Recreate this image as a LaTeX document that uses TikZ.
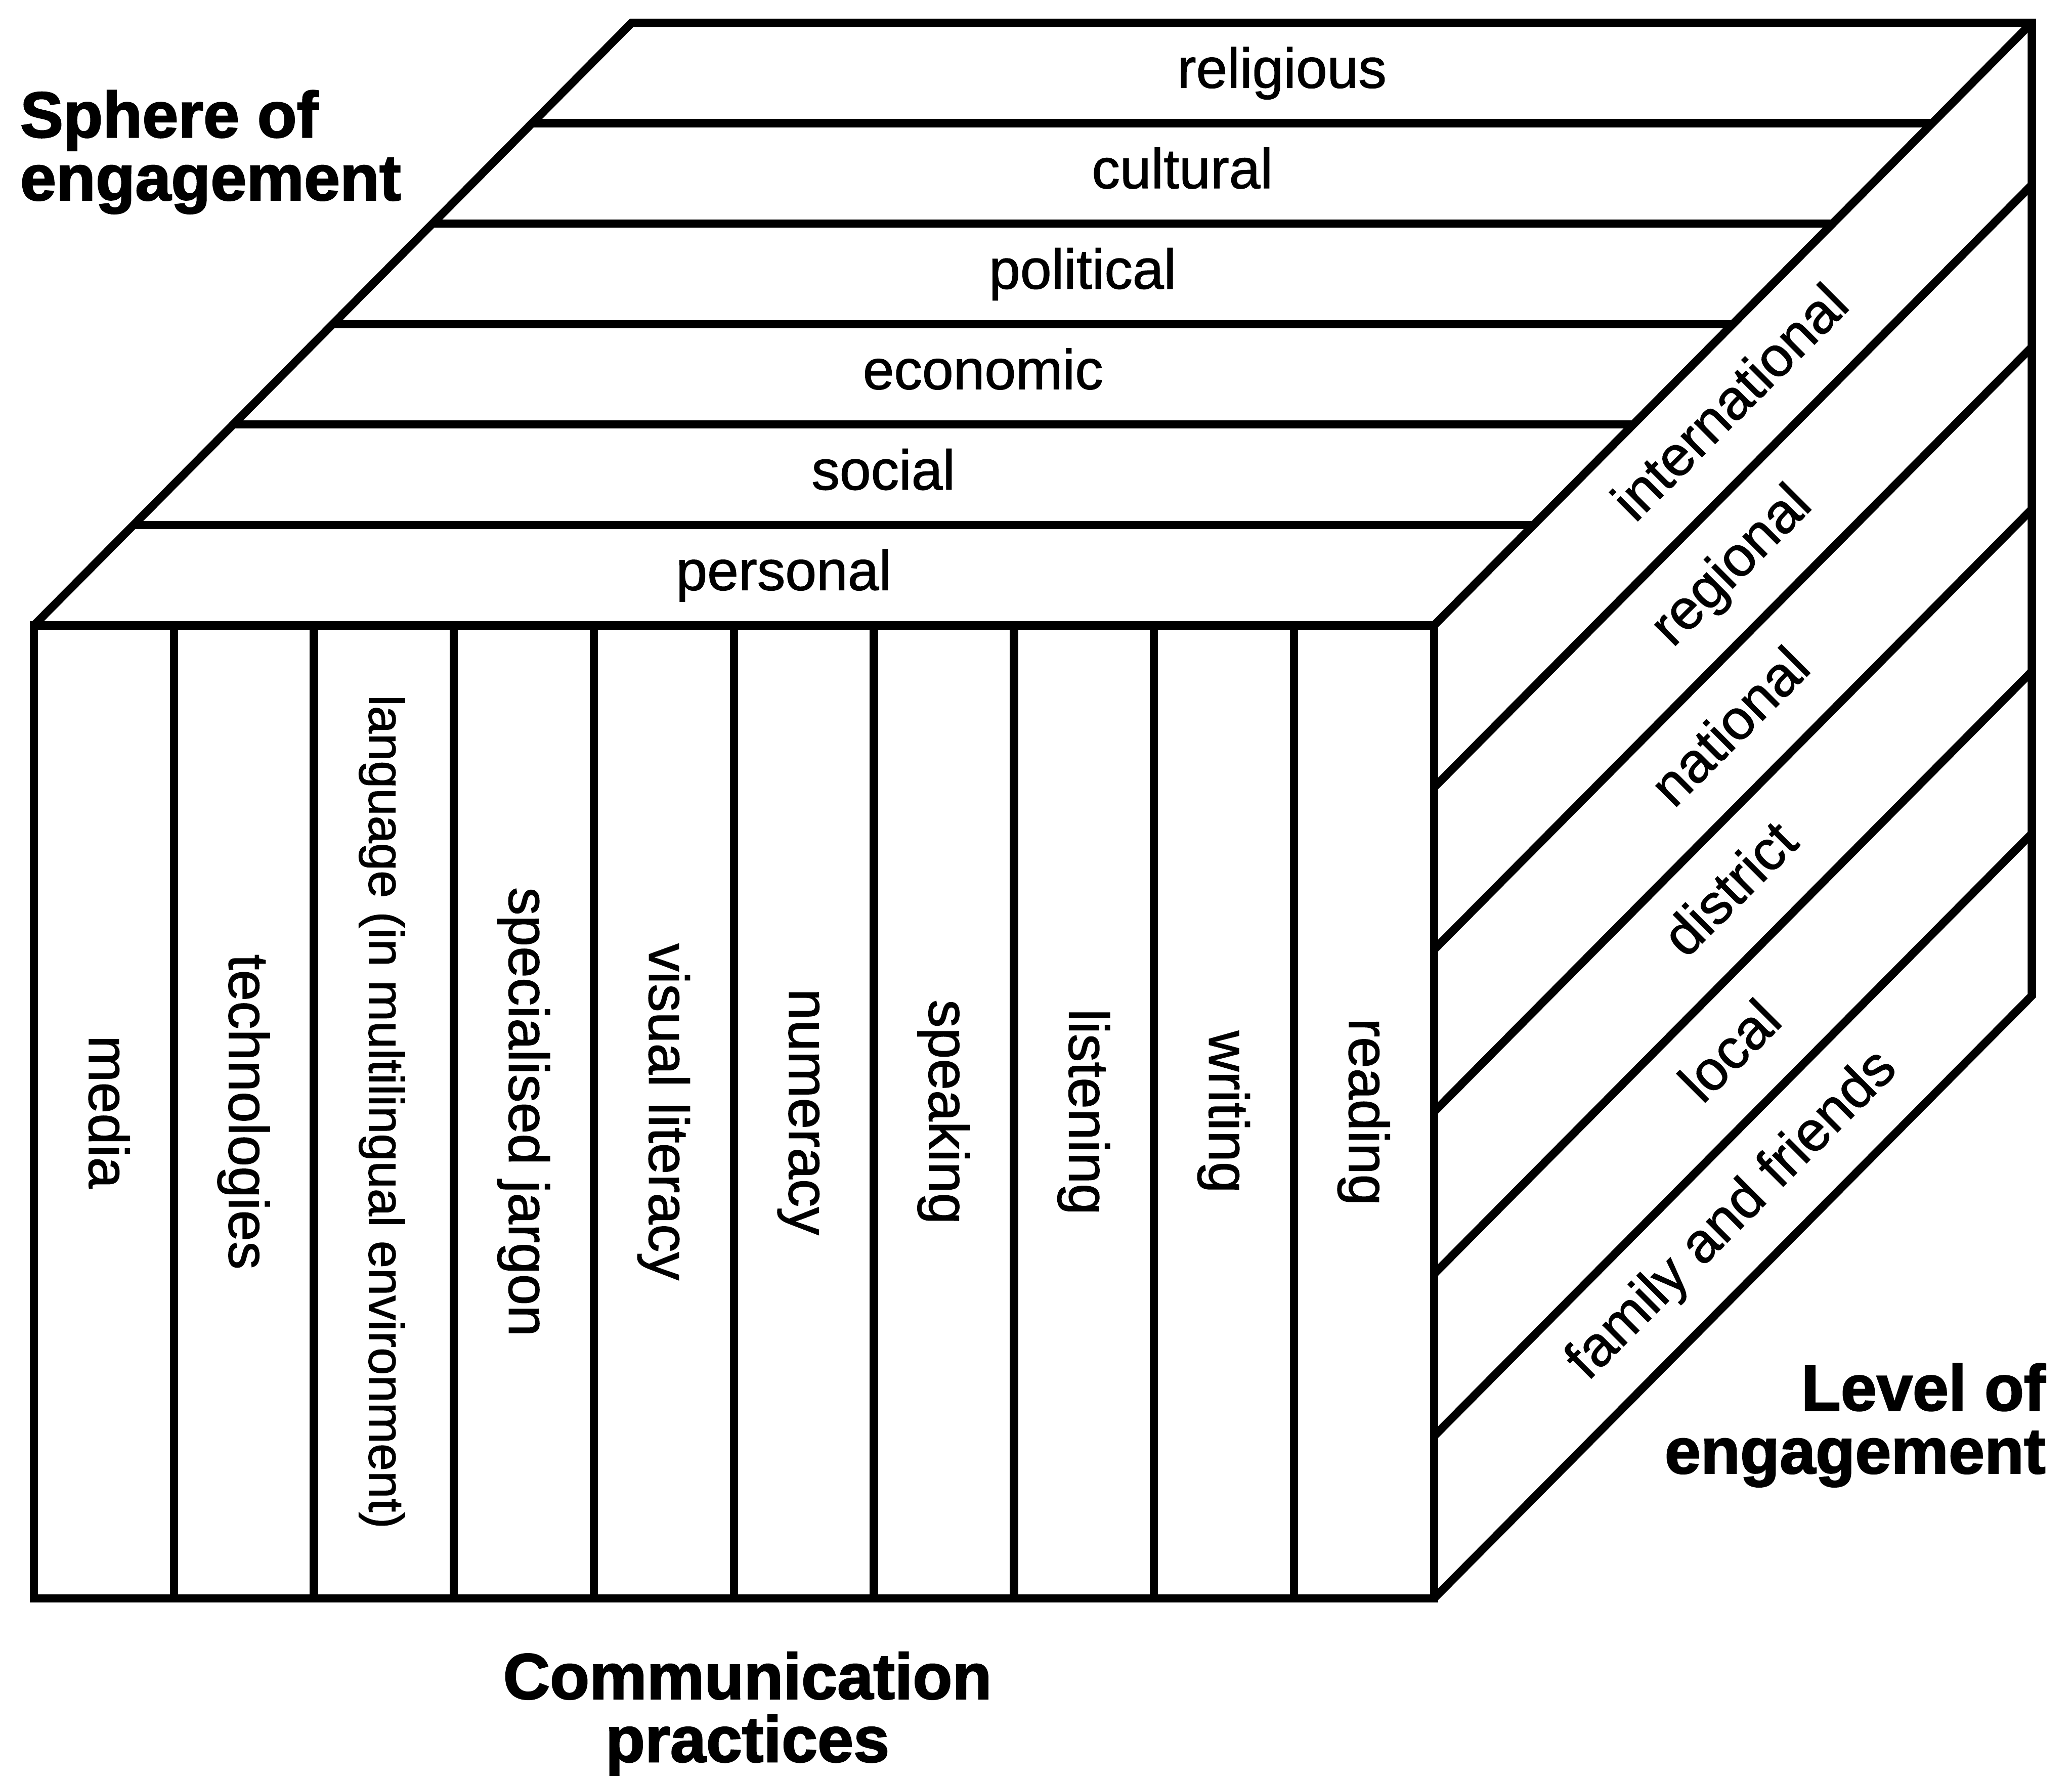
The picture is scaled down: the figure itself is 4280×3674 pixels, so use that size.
\documentclass[tikz,border=0pt]{standalone}
\usepackage{fontspec}
\setmainfont{Liberation Sans}[
    UprightFeatures={FakeBold=1.2},
    BoldFeatures={FakeBold=2}
]
\usetikzlibrary{calc}

\begin{document}
\begin{tikzpicture}[
    x=0.1mm, y=0.1mm,
    edge/.style={
        line width=1.7mm,
        line join=miter
    },
    strip/.style={
        font=\fontsize{33}{40}\selectfont,
        inner sep=0pt,
        text height=24pt,
        text depth=6.6pt
    },
    heading/.style={
        font=\fontsize{38}{37}\selectfont\bfseries,
        inner sep=0pt
    }
]
\useasboundingbox (0,0) rectangle (4280,3674);

% corners of the front face and the depth of the cube
\coordinate (fl) at (70,2382);
\coordinate (fr) at (2962,2382);
\coordinate (bl) at (70,372);
\coordinate (br) at (2962,372);
\coordinate (d) at (1235,1245);
\coordinate (fm) at ($(fl)!0.5!(bl)$);
\coordinate (frm) at ($(fr)!0.5!(br)$);

% dividing lines
\foreach \i in {1,...,9}
    \draw[edge] ($(fl)!\i/10!(fr)$) -- ($(bl)!\i/10!(br)$);
\foreach \i in {1,...,5}
    \draw[edge] ($(fl)+\i/6*(d)$) -- ($(fr)+\i/6*(d)$);
\foreach \i in {1,...,5}
    \draw[edge] ($(fr)!\i/6!(br)$) -- ($(fr)!\i/6!(br)+(d)$);

% outline of the cube
\draw[edge] (fl) -- (fr) -- (br) -- (bl) -- cycle;
\draw[edge] (fl) -- ($(fl)+(d)$) -- ($(fr)+(d)$) -- ($(br)+(d)$) -- (br);
\draw[edge] (fr) -- ($(fr)+(d)$);

% front face
\foreach \lbl/\sz [count=\i from 0] in {media/33, technologies/33,
        language (in multilingual environment)/29, specialised jargon/33,
        visual literacy/33, numeracy/33, speaking/33, listening/33,
        writing/33, reading/33}
    \node[strip, font=\fontsize{\sz}{40}\selectfont, rotate=-90] (cp\i)
        at ($(fm)!{(\i+0.5)/10}!(frm)$) {\lbl};

% top face
\foreach \lbl [count=\i from 0] in {personal, social, economic, political,
        cultural, religious}
    \node[strip] (se\i) at ($(fl)!0.5!(fr)+{(\i+0.5)/6}*(d)$) {\lbl};

% side face
\foreach \lbl [count=\i from 0] in {international, regional, national,
        district, local, family and friends}
    \node[strip, rotate=45] (le\i) at ($(fr)!{(\i+0.5)/6}!(br)+0.5*(d)$) {\lbl};

% axis titles
\node[heading, anchor=north west, align=left] (sphere) at (41,3488)
    {Sphere of\\engagement};
\node[heading, anchor=north east, align=right] (level) at (4226,858)
    {Level of\\engagement};
\node[heading, anchor=north, align=center] (practices) at (1544,262)
    {Communication\\practices};

\end{tikzpicture}
\end{document}
